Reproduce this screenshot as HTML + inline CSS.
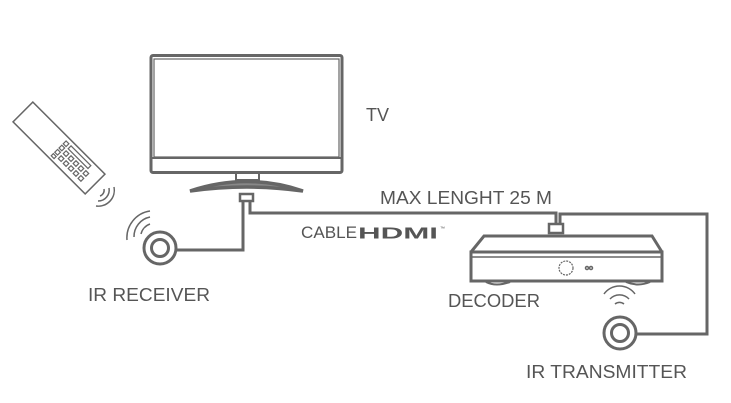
<!DOCTYPE html>
<html><head><style>
html,body{margin:0;padding:0;background:#fff;}
svg{display:block;}
text{font-family:"Liberation Sans",sans-serif;fill:#555;}
</style></head><body>
<svg width="731" height="403" viewBox="0 0 731 403" xmlns="http://www.w3.org/2000/svg">
<g fill="none" stroke="#666" stroke-width="3">
<!-- TV -->
<rect x="151" y="55.5" width="191" height="117" rx="2"/>
<line x1="152" y1="158" x2="341" y2="158" stroke-width="2"/>
<rect x="154" y="59" width="185" height="98" stroke-width="1.2"/>
<rect x="236" y="173" width="23" height="7" stroke-width="2"/>
<path d="M190 191 Q247 172 303 191 Q247 183 190 191Z" stroke-width="3.5" fill="#888"/>
<rect x="240" y="194" width="13" height="7" stroke-width="2.5"/>
<!-- cables -->
<polyline points="243,201 243,250 177,250"/>
<polyline points="250,201 250,213 556,213 556,224"/>
<polyline points="560,224 560,214 707,214 707,334 637,334"/>
<!-- receiver -->
<circle cx="160" cy="248" r="16"/>
<circle cx="160" cy="248" r="8.5"/>
<!-- transmitter -->
<circle cx="620" cy="333" r="16"/>
<circle cx="620" cy="333" r="8.5"/>
<!-- decoder -->
<rect x="549" y="224" width="14" height="9" stroke-width="2.5"/>
<path d="M471 252 L484 236 L652 236 L662 252"/>
<rect x="471" y="252" width="191" height="29"/>
<line x1="472" y1="257" x2="661" y2="257" stroke-width="1.5"/>
<path d="M486 282 Q496 287 510 282 M626 282 Q638 287 650 282" stroke-width="2"/>
<circle cx="566" cy="268" r="7" stroke-width="1.2" stroke-dasharray="2 1"/>
<circle cx="587" cy="268" r="1.5" stroke-width="1.5"/><circle cx="591" cy="268" r="1.5" stroke-width="1.5"/>
<!-- waves -->
<g stroke-width="1.5">
<path d="M615 304 A7 7 0 0 1 624 304"/>
<path d="M610 299 A13 13 0 0 1 629 299"/>
<path d="M604 294 A19 19 0 0 1 635 294"/>
<path d="M141 234 A14 14 0 0 1 150 224"/>
<path d="M134 237 A20 20 0 0 1 150 217"/>
<path d="M127 240 A27 27 0 0 1 150 211"/>
<path d="M100 196 A6 6 0 0 0 104 189"/>
<path d="M98 201 A11 11 0 0 0 109 188"/>
<path d="M96 206 A16 16 0 0 0 114 187"/>
</g>
<!-- remote -->
<g transform="translate(59,148) rotate(45)" stroke-width="1.5">
<rect x="-51" y="-14" width="102" height="28"/>
<g stroke-width="1.2">
<rect x="0" y="-10" width="4" height="4"/><rect x="0" y="-4" width="4" height="4"/><rect x="0" y="2" width="4" height="4"/><rect x="0" y="8" width="4" height="3"/>
<rect x="7" y="-10" width="28" height="4"/>
<rect x="7" y="-3" width="4" height="4"/><rect x="14" y="-3" width="4" height="4"/><rect x="21" y="-3" width="4" height="4"/><rect x="28" y="-3" width="4" height="4"/><rect x="35" y="-3" width="4" height="4"/>
<rect x="7" y="4" width="4" height="4"/><rect x="14" y="4" width="4" height="4"/><rect x="21" y="4" width="4" height="4"/><rect x="28" y="4" width="4" height="4"/><rect x="35" y="4" width="4" height="4"/>
</g>
</g>
</g>
<text x="366" y="121" font-size="18" textLength="23" lengthAdjust="spacingAndGlyphs">TV</text>
<text x="380" y="204" font-size="18" textLength="172" lengthAdjust="spacingAndGlyphs">MAX LENGHT 25 M</text>
<text x="301" y="238" font-size="17" textLength="56" lengthAdjust="spacingAndGlyphs">CABLE</text>
<text x="358" y="238.5" font-size="16" font-weight="bold" textLength="80" lengthAdjust="spacingAndGlyphs" style="fill:#555">HDMI</text>
<text x="440" y="230" font-size="5">™</text>
<text x="448" y="307" font-size="18" textLength="92" lengthAdjust="spacingAndGlyphs">DECODER</text>
<text x="88" y="301" font-size="18" textLength="122" lengthAdjust="spacingAndGlyphs">IR RECEIVER</text>
<text x="526" y="378" font-size="18" textLength="161" lengthAdjust="spacingAndGlyphs">IR TRANSMITTER</text>
</svg>
</body></html>
